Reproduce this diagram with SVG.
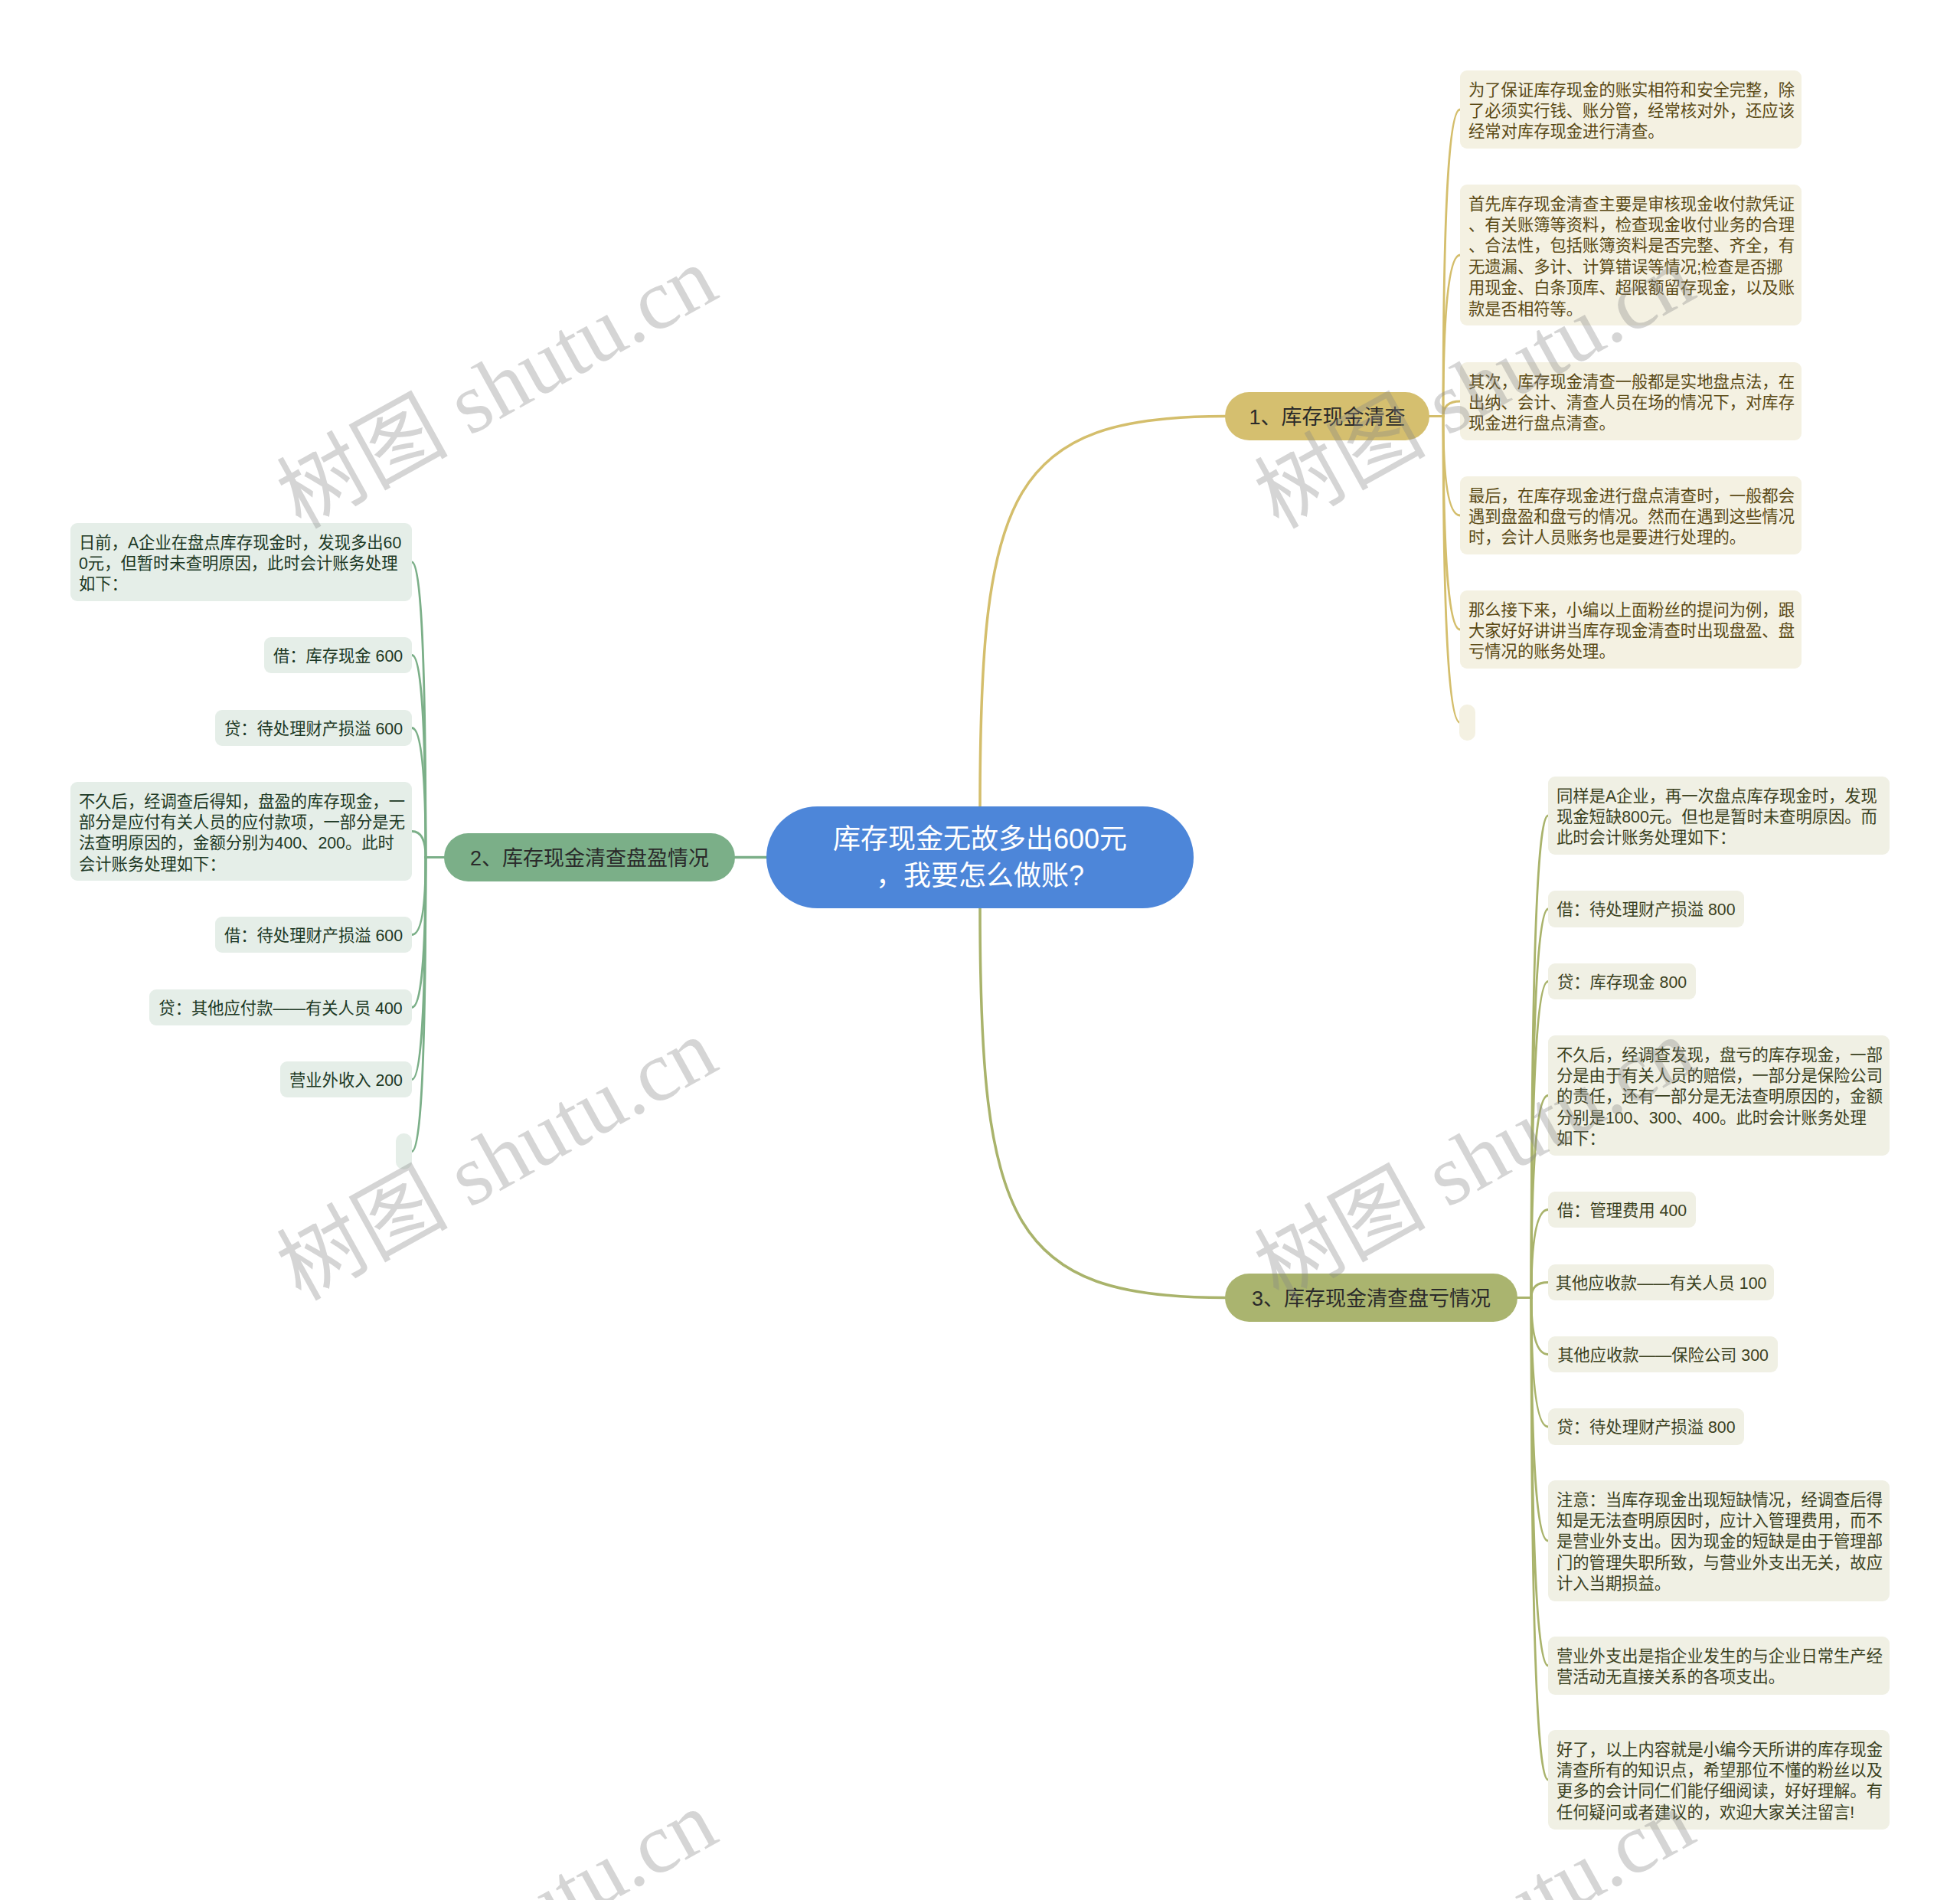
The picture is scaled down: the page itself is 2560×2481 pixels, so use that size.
<svg xmlns="http://www.w3.org/2000/svg" width="2560" height="2481" viewBox="0 0 2560 2481">
<style>
text{font-family:"Liberation Sans","Noto Sans CJK SC",sans-serif}
.root rect{fill:#4D86D9}
.root text{fill:#ffffff;font-size:36px;text-anchor:middle}
.b text{font-size:27px;fill:#2a2a2a;text-anchor:middle}
.b1 rect{fill:#D5BF6F}
.b2 rect{fill:#7BAF88}
.b3 rect{fill:#AAB46F}
.l text{font-size:21.3px}
.l .c{text-anchor:middle}
.l1 rect{fill:#F4F1E2}
.l1 text{fill:#5A4914}
.l2 rect{fill:#E5EEE8}
.l2 text{fill:#1C3824}
.l3 rect{fill:#F0F0E4}
.l3 text{fill:#3B411E}
#connectors path{fill:none;stroke-linecap:round}
.m{stroke-width:3.5}
.s{stroke-width:2.8}
.k1{stroke:#D4BE6C}
.k2{stroke:#7BAF88}
.k3{stroke:#A9B36B}
.wm text{font-family:"Liberation Serif","Noto Sans CJK SC",serif;font-size:112px;fill:#888888;fill-opacity:0.35;text-anchor:middle}
</style>
<rect width="2560" height="2481" fill="#ffffff"/>

<g id="connectors">
<path class="m k1" d="M1280 1053 C1280 640 1320 543.5 1600 543.5"/>
<path class="m k2" d="M1001 1119.5 H960"/>
<path class="m k3" d="M1280 1186 C1280 1598 1320 1694.5 1600 1694.5"/>
<path class="s k1" d="M1867 543.5 H1885 Q1885 143 1907 143"/>
<path class="s k1" d="M1867 543.5 H1885 Q1885 333 1907 333"/>
<path class="s k1" d="M1867 543.5 H1885 Q1885 524 1907 524"/>
<path class="s k1" d="M1867 543.5 H1885 Q1885 673 1907 673"/>
<path class="s k1" d="M1867 543.5 H1885 Q1885 822 1907 822"/>
<path class="s k1" d="M1867 543.5 H1885 Q1885 943.5 1907 943.5"/>
<path class="s k2" d="M580 1119.5 H556 Q556 734 538 734"/>
<path class="s k2" d="M580 1119.5 H556 Q556 855.5 538 855.5"/>
<path class="s k2" d="M580 1119.5 H556 Q556 950.5 538 950.5"/>
<path class="s k2" d="M580 1119.5 H556 Q556 1085.5 538 1085.5"/>
<path class="s k2" d="M580 1119.5 H556 Q556 1220.5 538 1220.5"/>
<path class="s k2" d="M580 1119.5 H556 Q556 1315.5 538 1315.5"/>
<path class="s k2" d="M580 1119.5 H556 Q556 1409.5 538 1409.5"/>
<path class="s k2" d="M580 1119.5 H556 Q556 1503.5 538 1503.5"/>
<path class="s k3" d="M1982 1694.5 H2000 Q2000 1065 2022 1065"/>
<path class="s k3" d="M1982 1694.5 H2000 Q2000 1187 2022 1187"/>
<path class="s k3" d="M1982 1694.5 H2000 Q2000 1281.5 2022 1281.5"/>
<path class="s k3" d="M1982 1694.5 H2000 Q2000 1430.5 2022 1430.5"/>
<path class="s k3" d="M1982 1694.5 H2000 Q2000 1579.5 2022 1579.5"/>
<path class="s k3" d="M1982 1694.5 H2000 Q2000 1674.5 2022 1674.5"/>
<path class="s k3" d="M1982 1694.5 H2000 Q2000 1768.5 2022 1768.5"/>
<path class="s k3" d="M1982 1694.5 H2000 Q2000 1863 2022 1863"/>
<path class="s k3" d="M1982 1694.5 H2000 Q2000 2012 2022 2012"/>
<path class="s k3" d="M1982 1694.5 H2000 Q2000 2175 2022 2175"/>
<path class="s k3" d="M1982 1694.5 H2000 Q2000 2324 2022 2324"/>
</g>

<g id="root" class="root">
<rect x="1001" y="1053" width="558" height="133" rx="66.5"/>
<text x="1280" y="1108">库存现金无故多出600元</text>
<text x="1280" y="1156">，我要怎么做账?</text>
</g>

<g id="branch1" class="b b1">
<rect x="1600" y="512" width="267" height="63" rx="31.5"/>
<text x="1733.5" y="553.5">1、库存现金清查</text>
</g>
<g id="branch2" class="b b2">
<rect x="580" y="1088" width="380" height="63" rx="31.5"/>
<text x="770" y="1129.5">2、库存现金清查盘盈情况</text>
</g>
<g id="branch3" class="b b3">
<rect x="1600" y="1663" width="382" height="63" rx="31.5"/>
<text x="1791" y="1704.5">3、库存现金清查盘亏情况</text>
</g>

<g id="n1-1" class="l l1">
<rect x="1907" y="92" width="446" height="102" rx="9"/>
<text x="1918" y="124.6">为了保证库存现金的账实相符和安全完整，除</text>
<text x="1918" y="152">了必须实行钱、账分管，经常核对外，还应该</text>
<text x="1918" y="179.4">经常对库存现金进行清查。</text>
</g>
<g id="n1-2" class="l l1">
<rect x="1907" y="241" width="446" height="184" rx="9"/>
<text x="1918" y="273.6">首先库存现金清查主要是审核现金收付款凭证</text>
<text x="1918" y="301">、有关账簿等资料，检查现金收付业务的合理</text>
<text x="1918" y="328.4">、合法性，包括账簿资料是否完整、齐全，有</text>
<text x="1918" y="355.8">无遗漏、多计、计算错误等情况;检查是否挪</text>
<text x="1918" y="383.2">用现金、白条顶库、超限额留存现金，以及账</text>
<text x="1918" y="410.6">款是否相符等。</text>
</g>
<g id="n1-3" class="l l1">
<rect x="1907" y="473" width="446" height="102" rx="9"/>
<text x="1918" y="505.6">其次，库存现金清查一般都是实地盘点法，在</text>
<text x="1918" y="533">出纳、会计、清查人员在场的情况下，对库存</text>
<text x="1918" y="560.4">现金进行盘点清查。</text>
</g>
<g id="n1-4" class="l l1">
<rect x="1907" y="622" width="446" height="102" rx="9"/>
<text x="1918" y="654.6">最后，在库存现金进行盘点清查时，一般都会</text>
<text x="1918" y="682">遇到盘盈和盘亏的情况。然而在遇到这些情况</text>
<text x="1918" y="709.4">时，会计人员账务也是要进行处理的。</text>
</g>
<g id="n1-5" class="l l1">
<rect x="1907" y="771" width="446" height="102" rx="9"/>
<text x="1918" y="803.6">那么接下来，小编以上面粉丝的提问为例，跟</text>
<text x="1918" y="831">大家好好讲讲当库存现金清查时出现盘盈、盘</text>
<text x="1918" y="858.4">亏情况的账务处理。</text>
</g>
<g id="n1-6" class="l l1">
<rect x="1906" y="920" width="21" height="47" rx="10"/>
</g>

<g id="n2-1" class="l l2">
<rect x="92" y="683" width="446" height="102" rx="9"/>
<text x="103" y="715.6">日前，A企业在盘点库存现金时，发现多出60</text>
<text x="103" y="743">0元，但暂时未查明原因，此时会计账务处理</text>
<text x="103" y="770.4">如下：</text>
</g>
<g id="n2-2" class="l l2">
<rect x="345" y="832" width="193" height="47" rx="9"/>
<text class="c" x="441.5" y="863.5">借：库存现金 600</text>
</g>
<g id="n2-3" class="l l2">
<rect x="281" y="927" width="257" height="47" rx="9"/>
<text class="c" x="409.5" y="958.5">贷：待处理财产损溢 600</text>
</g>
<g id="n2-4" class="l l2">
<rect x="92" y="1021" width="446" height="129" rx="9"/>
<text x="103" y="1053.6">不久后，经调查后得知，盘盈的库存现金，一</text>
<text x="103" y="1081">部分是应付有关人员的应付款项，一部分是无</text>
<text x="103" y="1108.4">法查明原因的，金额分别为400、200。此时</text>
<text x="103" y="1135.8">会计账务处理如下：</text>
</g>
<g id="n2-5" class="l l2">
<rect x="281" y="1197" width="257" height="47" rx="9"/>
<text class="c" x="409.5" y="1228.5">借：待处理财产损溢 600</text>
</g>
<g id="n2-6" class="l l2">
<rect x="195" y="1292" width="343" height="47" rx="9"/>
<text class="c" x="366.5" y="1323.5">贷：其他应付款——有关人员 400</text>
</g>
<g id="n2-7" class="l l2">
<rect x="366" y="1386" width="172" height="47" rx="9"/>
<text class="c" x="452" y="1417.5">营业外收入 200</text>
</g>
<g id="n2-8" class="l l2">
<rect x="517" y="1480" width="21" height="47" rx="10"/>
</g>

<g id="n3-1" class="l l3">
<rect x="2022" y="1014" width="446" height="102" rx="9"/>
<text x="2033" y="1046.6">同样是A企业，再一次盘点库存现金时，发现</text>
<text x="2033" y="1074">现金短缺800元。但也是暂时未查明原因。而</text>
<text x="2033" y="1101.4">此时会计账务处理如下：</text>
</g>
<g id="n3-2" class="l l3">
<rect x="2022" y="1163" width="256" height="48" rx="9"/>
<text class="c" x="2150" y="1195">借：待处理财产损溢 800</text>
</g>
<g id="n3-3" class="l l3">
<rect x="2022" y="1258" width="193" height="47" rx="9"/>
<text class="c" x="2118.5" y="1289.5">贷：库存现金 800</text>
</g>
<g id="n3-4" class="l l3">
<rect x="2022" y="1352" width="446" height="157" rx="9"/>
<text x="2033" y="1384.6">不久后，经调查发现，盘亏的库存现金，一部</text>
<text x="2033" y="1412">分是由于有关人员的赔偿，一部分是保险公司</text>
<text x="2033" y="1439.4">的责任，还有一部分是无法查明原因的，金额</text>
<text x="2033" y="1466.8">分别是100、300、400。此时会计账务处理</text>
<text x="2033" y="1494.2">如下：</text>
</g>
<g id="n3-5" class="l l3">
<rect x="2022" y="1556" width="193" height="47" rx="9"/>
<text class="c" x="2118.5" y="1587.5">借：管理费用 400</text>
</g>
<g id="n3-6" class="l l3">
<rect x="2022" y="1651" width="295" height="47" rx="9"/>
<text class="c" x="2169.5" y="1682.5">其他应收款——有关人员 100</text>
</g>
<g id="n3-7" class="l l3">
<rect x="2022" y="1745" width="300" height="47" rx="9"/>
<text class="c" x="2172" y="1776.5">其他应收款——保险公司 300</text>
</g>
<g id="n3-8" class="l l3">
<rect x="2022" y="1839" width="256" height="48" rx="9"/>
<text class="c" x="2150" y="1871">贷：待处理财产损溢 800</text>
</g>
<g id="n3-9" class="l l3">
<rect x="2022" y="1933" width="446" height="158" rx="9"/>
<text x="2033" y="1965.6">注意：当库存现金出现短缺情况，经调查后得</text>
<text x="2033" y="1993">知是无法查明原因时，应计入管理费用，而不</text>
<text x="2033" y="2020.4">是营业外支出。因为现金的短缺是由于管理部</text>
<text x="2033" y="2047.8">门的管理失职所致，与营业外支出无关，故应</text>
<text x="2033" y="2075.2">计入当期损益。</text>
</g>
<g id="n3-10" class="l l3">
<rect x="2022" y="2137" width="446" height="76" rx="9"/>
<text x="2033" y="2169.6">营业外支出是指企业发生的与企业日常生产经</text>
<text x="2033" y="2197">营活动无直接关系的各项支出。</text>
</g>
<g id="n3-11" class="l l3">
<rect x="2022" y="2259" width="446" height="130" rx="9"/>
<text x="2033" y="2291.6">好了，以上内容就是小编今天所讲的库存现金</text>
<text x="2033" y="2319">清查所有的知识点，希望那位不懂的粉丝以及</text>
<text x="2033" y="2346.4">更多的会计同仁们能仔细阅读，好好理解。有</text>
<text x="2033" y="2373.8">任何疑问或者建议的，欢迎大家关注留言!</text>
</g>

<g id="watermarks" class="wm">
<text transform="translate(649 506) rotate(-29)" y="38">树图 shutu.cn</text>
<text transform="translate(1926 506) rotate(-29)" y="38">树图 shutu.cn</text>
<text transform="translate(649 1514) rotate(-29)" y="38">树图 shutu.cn</text>
<text transform="translate(1926 1514) rotate(-29)" y="38">树图 shutu.cn</text>
<text transform="translate(649 2522) rotate(-29)" y="38">树图 shutu.cn</text>
<text transform="translate(1926 2522) rotate(-29)" y="38">树图 shutu.cn</text>
</g>
</svg>
